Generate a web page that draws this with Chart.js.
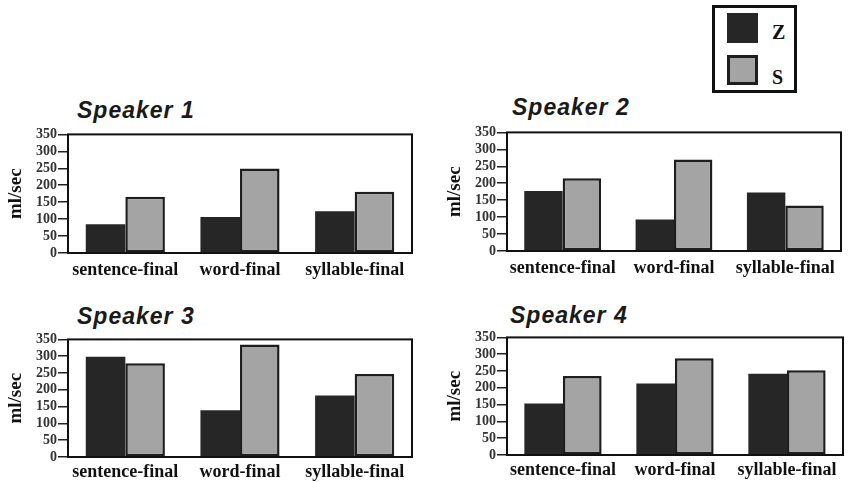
<!DOCTYPE html>
<html>
<head>
<meta charset="utf-8">
<script src="https://cdn.jsdelivr.net/npm/chart.js@4.4.1/dist/chart.umd.min.js"></script>
<style>
  html, body { margin: 0; padding: 0; background: #fff; overflow: hidden; }
  body { width: 856px; height: 482px; position: relative; }
  .panel { position: absolute; }
  .title {
    position: absolute; font-family: "Liberation Sans", Arial, sans-serif;
    font-weight: bold; font-style: italic; font-size: 23px; line-height: 1;
    letter-spacing: 1px; color: #1a1a1a; white-space: nowrap;
  }
  #legend {
    position: absolute; left: 712px; top: 5px; width: 79px; height: 82px;
    border: 3px solid #111; background: #fff;
  }
  .sw { position: absolute; left: 12px; width: 31px; height: 30px; box-sizing: border-box; }
  .lab {
    position: absolute; left: 57px; font-family: "Liberation Serif", "Times New Roman", serif;
    font-weight: bold; font-size: 20px; line-height: 1; color: #111;
  }
</style>
</head>
<body>
<div id="legend"></div>

<script>
const categories = ["sentence-final", "word-final", "syllable-final"];
const seriesNames = ["Z", "S"];
const speakers = ["Speaker 1", "Speaker 2", "Speaker 3", "Speaker 4"];

// ml/sec
const zValues = [
  [85, 106, 123],
  [177, 93, 173],
  [298, 139, 183],
  [153, 213, 242]
];
const sValues = [
  [166, 249, 181],
  [215, 270, 134],
  [279, 335, 247],
  [235, 288, 252]
];
const yTicks = { min: 0, max: 350, step: 50 };

const zColor = "#262626";
const sColor = "#a4a4a4";

// panel boxes: canvas left/top/width/height, right padding, label padding, title position
const panels = [
  { left: 0,   top: 125, w: 428, h: 160, padRight: 16, lp: -1, tx: 77,  ty: 99 },
  { left: 439, top: 123, w: 417, h: 160, padRight: 15, lp: -1, tx: 512, ty: 96 },
  { left: 0,   top: 330, w: 428, h: 159, padRight: 16, lp: -3, tx: 77,  ty: 305 },
  { left: 439, top: 328, w: 417, h: 159, padRight: 13, lp: -3, tx: 510, ty: 304 }
];

const framePlugin = {
  id: "frame",
  afterDraw(chart) {
    const a = chart.chartArea, ctx = chart.ctx;
    ctx.save();
    ctx.strokeStyle = "#111";
    ctx.lineWidth = 2;
    ctx.strokeRect(a.left, a.top, a.right - a.left, a.bottom - a.top);
    ctx.restore();
  }
};

const serif = '"Liberation Serif", "Times New Roman", serif';

// legend
const legend = document.getElementById("legend");
seriesNames.forEach((name, i) => {
  const sw = document.createElement("div");
  sw.className = "sw";
  sw.style.top = (5 + i * 42) + "px";
  sw.style.background = i === 0 ? zColor : sColor;
  if (i === 1) sw.style.border = "3px solid #1e1e1e";
  legend.appendChild(sw);
  const lab = document.createElement("div");
  lab.className = "lab";
  lab.style.top = (14 + i * 45) + "px";
  lab.textContent = name;
  legend.appendChild(lab);
});

speakers.forEach((name, i) => {
  const p = panels[i];
  const t = document.createElement("div");
  t.className = "title";
  t.style.left = p.tx + "px";
  t.style.top = p.ty + "px";
  t.textContent = name;
  document.body.appendChild(t);

  const box = document.createElement("div");
  box.className = "panel";
  box.style.left = p.left + "px";
  box.style.top = p.top + "px";
  box.style.width = p.w + "px";
  box.style.height = p.h + "px";
  const cv = document.createElement("canvas");
  box.appendChild(cv);
  document.body.appendChild(box);

  new Chart(cv, {
    type: "bar",
    data: {
      labels: categories,
      datasets: [
        {
          label: seriesNames[0],
          data: zValues[i],
          backgroundColor: zColor,
          borderWidth: 0,
          categoryPercentage: 0.69,
          barPercentage: 1.0
        },
        {
          label: seriesNames[1],
          data: sValues[i],
          backgroundColor: sColor,
          borderColor: "#1e1e1e",
          borderWidth: 2.5,
          borderSkipped: false,
          categoryPercentage: 0.69,
          barPercentage: 1.0
        }
      ]
    },
    options: {
      responsive: true,
      maintainAspectRatio: false,
      animation: false,
      layout: { padding: { top: 8, right: p.padRight, bottom: 0, left: 0 } },
      plugins: {
        legend: { display: false },
        tooltip: { enabled: false }
      },
      scales: {
        x: {
          grid: { display: false },
          border: { display: false },
          ticks: {
            color: "#111",
            padding: p.lp,
            maxRotation: 0,
            autoSkip: false,
            font: { family: serif, size: 18, weight: "bold" }
          },
          afterFit(axis) { axis.height = 32; }
        },
        y: {
          min: yTicks.min,
          max: yTicks.max,
          border: { display: false },
          grid: {
            drawOnChartArea: false,
            drawTicks: true,
            tickLength: 10,
            color: "#222",
            lineWidth: 1.5
          },
          ticks: {
            stepSize: yTicks.step,
            autoSkip: false,
            color: "#333",
            padding: 1,
            font: { family: serif, size: 14, weight: "bold" }
          },
          title: {
            display: true,
            text: "ml/sec",
            color: "#111",
            padding: { top: 5, bottom: 0 },
            font: { family: serif, size: 19, weight: "bold" }
          },
          afterFit(axis) { axis.width = 68; }
        }
      }
    },
    plugins: [framePlugin]
  });
});
</script>
</body>
</html>
